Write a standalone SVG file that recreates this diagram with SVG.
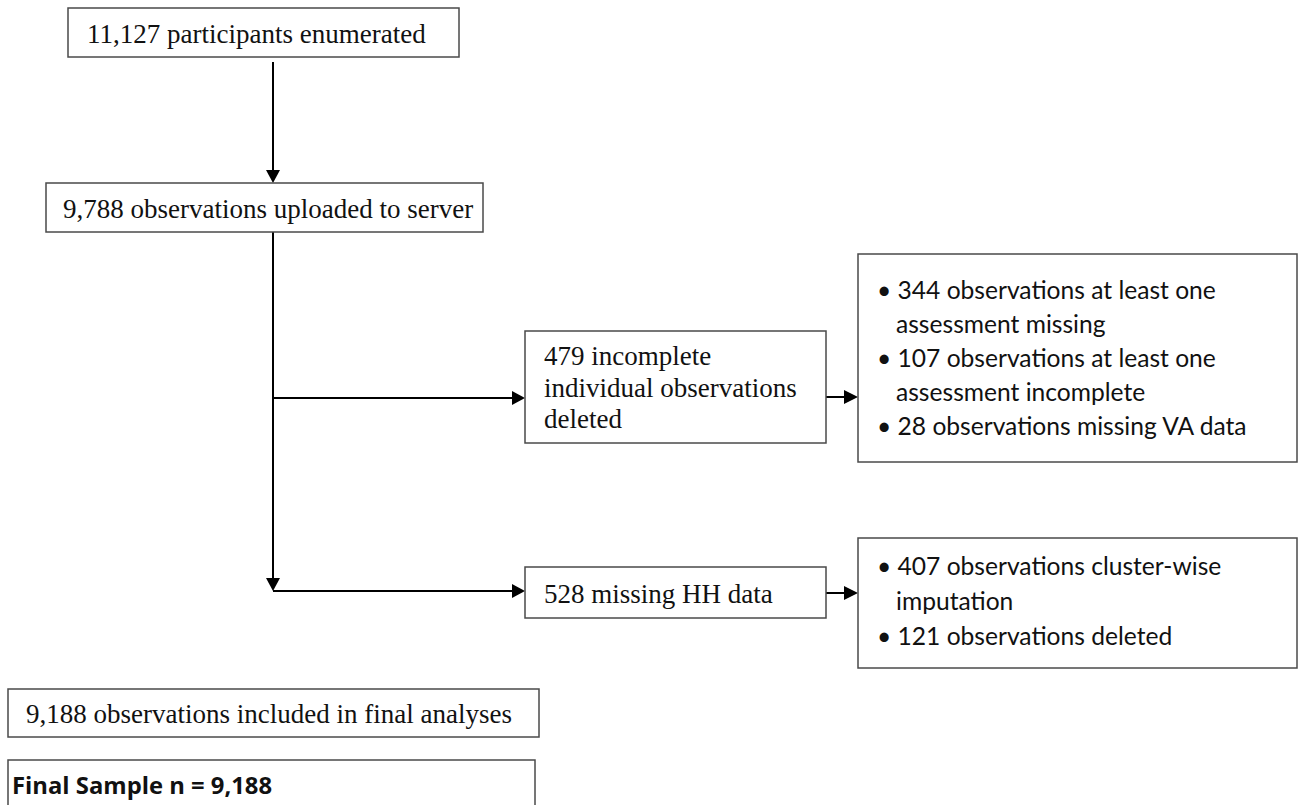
<svg xmlns="http://www.w3.org/2000/svg" width="1298" height="805" viewBox="0 0 1298 805">
<style>
.box{fill:#fff;stroke:#4a4a4a;stroke-width:1.5}
.ln{fill:none;stroke:#000;stroke-width:2}
.ah{fill:#000}
.tm{font-family:"Liberation Serif",serif;font-size:27px;fill:#111}
.cb{font-family:Lato,"Liberation Sans",sans-serif;font-size:24.6px;fill:#111}
.bd{font-family:"Open Sans","Liberation Sans",sans-serif;font-size:23.8px;font-weight:bold;fill:#111}
</style>
<rect width="1298" height="805" fill="#fff"/>
<g id="connectors">
<path class="ln" d="M273,62 V170"/>
<path class="ah" d="M266,170 L280,170 L273,183 Z"/>
<path class="ln" d="M273,232 V578"/>
<path class="ah" d="M266,578 L280,578 L273,591 Z"/>
<path class="ln" d="M273,591 H512"/>
<path class="ah" d="M512,584 L525,591 L512,598 Z"/>
<path class="ln" d="M273,398 H512"/>
<path class="ah" d="M512,391 L525,398 L512,405 Z"/>
<path class="ln" d="M826,397 H844"/>
<path class="ah" d="M844,390 L858,397 L844,404 Z"/>
<path class="ln" d="M826,593 H844"/>
<path class="ah" d="M844,586 L858,593 L844,600 Z"/>
</g>
<g id="n1"><rect class="box" x="68" y="8" width="391" height="49"/><text class="tm" x="87" y="43">11,127 participants enumerated</text></g>
<g id="n2"><rect class="box" x="46" y="183" width="437" height="49"/><text class="tm" x="63" y="218">9,788 observations uploaded to server</text></g>
<g id="n3"><rect class="box" x="525" y="331" width="301" height="112"/>
<text class="tm" x="544" y="365">479 incomplete</text>
<text class="tm" x="544" y="397">individual observations</text>
<text class="tm" x="544" y="428">deleted</text></g>
<g id="n4"><rect class="box" x="858" y="254" width="439" height="208"/>
<text class="cb"><tspan x="877" y="299">• 344 observations at least one</tspan><tspan x="896" y="333">assessment missing</tspan><tspan x="877" y="367">• 107 observations at least one</tspan><tspan x="896" y="401">assessment incomplete</tspan><tspan x="877" y="435">• 28 observations missing VA data</tspan></text></g>
<g id="n5"><rect class="box" x="525" y="567" width="301" height="51"/><text class="tm" x="544" y="603">528 missing HH data</text></g>
<g id="n6"><rect class="box" x="858" y="538" width="439" height="130"/>
<text class="cb"><tspan x="877" y="575">• 407 observations cluster-wise</tspan><tspan x="896" y="610">imputation</tspan><tspan x="877" y="645">• 121 observations deleted</tspan></text></g>
<g id="n7"><rect class="box" x="8" y="689" width="531" height="48"/><text class="tm" x="26" y="723">9,188 observations included in final analyses</text></g>
<g id="n8"><rect class="box" x="8" y="760" width="527" height="60"/><text class="bd" x="12" y="794">Final Sample n = 9,188</text></g>
</svg>
